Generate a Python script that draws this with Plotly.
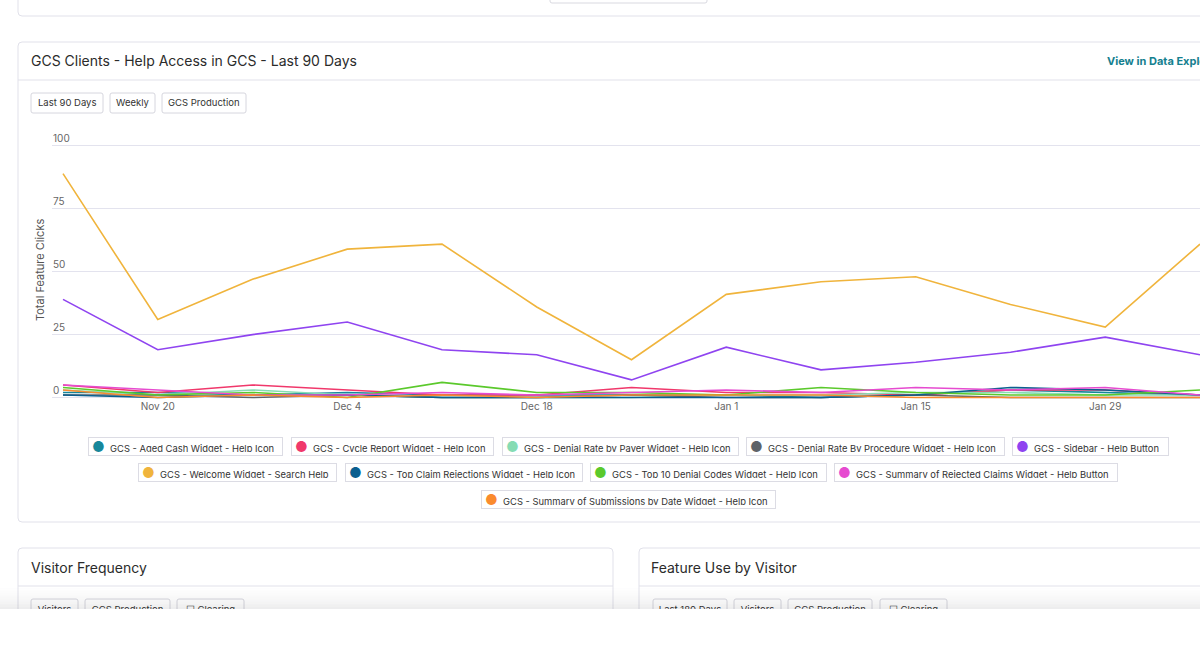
import plotly.graph_objects as go

# ---------------- data ----------------
weeks = ["2023-11-13", "2023-11-20", "2023-11-27", "2023-12-04", "2023-12-11", "2023-12-18",
         "2023-12-25", "2024-01-01", "2024-01-08", "2024-01-15", "2024-01-22", "2024-01-29",
         "2024-02-05"]

series_names = [
    "GCS - Aged Cash Widget - Help Icon",
    "GCS - Cycle Report Widget - Help Icon",
    "GCS - Denial Rate by Payer Widget - Help Icon",
    "GCS - Denial Rate By Procedure Widget - Help Icon",
    "GCS - Sidebar - Help Button",
    "GCS - Welcome Widget - Search Help",
    "GCS - Top Claim Rejections Widget - Help Icon",
    "GCS - Top 10 Denial Codes Widget - Help Icon",
    "GCS - Summary of Rejected Claims Widget - Help Button",
    "GCS - Summary of Submissions by Date Widget - Help Icon",
]
series_colors = ["#17879a", "#f0386b", "#86dcb4", "#5f6368", "#8f44f0",
                 "#f0b43c", "#0b5f8f", "#5bc92c", "#e64bd0", "#fa8b2e"]

aged_cash = [2, 2, 1, 2, 1, 1, 1, 1, 0, 1, 3, 2, 1]
cycle_report = [5, 2, 5, 3, 1, 1, 4, 2, 2, 1, 3, 3, 1]
denial_payer = [3, 1, 3, 1, 0, 0, 0, 1, 1, 2, 2, 1, 1]
denial_procedure = [1, 1, 0, 1, 0, 0, 1, 0, 0, 1, 0, 0, 0]
sidebar = [39, 19, 25, 30, 19, 17, 7, 20, 11, 14, 18, 24, 17]
welcome = [89, 31, 47, 59, 61, 36, 15, 41, 46, 48, 37, 28, 61]
top_claim = [1, 0, 1, 1, 0, 0, 0, 0, 0, 1, 4, 3, 1]
top10_denial = [4, 1, 2, 0, 6, 2, 2, 1, 4, 2, 1, 1, 3]
summary_rejected = [5, 3, 1, 1, 2, 1, 2, 3, 2, 4, 3, 4, 1]
summary_submissions = [3, 0, 1, 0, 1, 0, 1, 1, 1, 0, 0, 0, 0]

series_values = [aged_cash, cycle_report, denial_payer, denial_procedure, sidebar,
                 welcome, top_claim, top10_denial, summary_rejected, summary_submissions]

y_ticks = [0, 25, 50, 75, 100]

panel_title = "GCS Clients - Help Access in GCS - Last 90 Days"
link_text = "View in Data Explorer"
filter_buttons = ["Last 90 Days", "Weekly", "GCS Production"]
y_title = "Total Feature Clicks"
lower_titles = ["Visitor Frequency", "Feature Use by Visitor"]
lower_left_buttons = ["Visitors", "GCS Production", "☐ Clearing"]
lower_right_buttons = ["Last 180 Days", "Visitors", "GCS Production", "☐ Clearing"]

# ---------------- layout helpers (pixel -> paper) ----------------
W, H = 1200, 650
FONT = "Inter, 'Noto Sans', sans-serif"
BORDER = "#e1e1ea"


def fx(p):
    return p / W


def fy(p):
    return (H - p) / H


def rrect(x0, y0, x1, y1, r, line=BORDER, fill=None, layer="below", width=1):
    path = (f"M {fx(x0 + r)},{fy(y0)} L {fx(x1 - r)},{fy(y0)} Q {fx(x1)},{fy(y0)} {fx(x1)},{fy(y0 + r)} "
            f"L {fx(x1)},{fy(y1 - r)} Q {fx(x1)},{fy(y1)} {fx(x1 - r)},{fy(y1)} "
            f"L {fx(x0 + r)},{fy(y1)} Q {fx(x0)},{fy(y1)} {fx(x0)},{fy(y1 - r)} "
            f"L {fx(x0)},{fy(y0 + r)} Q {fx(x0)},{fy(y0)} {fx(x0 + r)},{fy(y0)} Z")
    d = dict(type="path", path=path, xref="paper", yref="paper", layer=layer,
             line=dict(color=line, width=width))
    d["fillcolor"] = fill if fill else "rgba(0,0,0,0)"
    return d


def hline(x0, x1, y, color=BORDER, layer="below"):
    return dict(type="line", xref="paper", yref="paper", x0=fx(x0), x1=fx(x1), y0=fy(y), y1=fy(y),
                line=dict(color=color, width=1), layer=layer)


# plot area: value 0 at y=397.5, value 100 at y=146
Y_LO, Y_HI = -0.6, 105.5
PX_PER = (397.5 - 146) / 100
PLOT_L, PLOT_R = 52, 1200
PLOT_B = 397.5 - Y_LO * PX_PER
PLOT_T = 146 - (Y_HI - 100) * PX_PER

fig = go.Figure()

draw_order = [0, 1, 2, 3, 6, 7, 8, 9, 4, 5]
for i in draw_order:
    fig.add_trace(go.Scatter(
        x=weeks, y=series_values[i], name=series_names[i], mode="lines",
        line=dict(color=series_colors[i], width=1.6), showlegend=False,
        xaxis="x", yaxis="y",
    ))

# lower-panel button texts (clipped under the bottom overlay)
lower_btn_boxes_left = [(31, 78), (85, 170), (177, 244)]
lower_btn_boxes_right = [(653, 727), (734, 781), (788, 872), (880, 947)]
btn_x = [(a + b) / 2 for a, b in lower_btn_boxes_left + lower_btn_boxes_right]
btn_t = lower_left_buttons + lower_right_buttons
fig.add_trace(go.Scatter(
    x=btn_x, y=[610.5] * len(btn_x), text=btn_t, mode="text",
    textfont=dict(family=FONT, size=9.5, color="#333"), cliponaxis=True,
    showlegend=False, hoverinfo="skip", xaxis="x2", yaxis="y2",
))

shapes = []
# top (previous) panel, bottom edge
shapes.append(rrect(18, -10, 1215, 16, 4))
shapes.append(rrect(550, -10, 707, 3, 2, line="#d9d9e0"))
# main panel
shapes.append(rrect(18, 42, 1215, 522, 4))
shapes.append(hline(18, 1215, 80))
# filter buttons
top_btn_boxes = [(31, 103), (110, 155), (162, 246)]
for (a, b) in top_btn_boxes:
    shapes.append(rrect(a, 93, b, 113, 2, line="#d6d6de"))
# lower panels
shapes.append(rrect(18, 548, 613, 700, 4))
shapes.append(hline(18, 613, 586))
shapes.append(rrect(639, 548, 1215, 700, 4))
shapes.append(hline(639, 1215, 586))
for (a, b) in lower_btn_boxes_left + lower_btn_boxes_right:
    shapes.append(rrect(a, 599, b, 620, 2, line="#d6d6de"))
# bottom overlay with soft shadow
n = 12
for k in range(n):
    y0 = 588 + k * (21 / n)
    y1 = 588 + (k + 1) * (21 / n)
    a = 0.006 + 0.085 * ((k + 1) / n) ** 1.6
    shapes.append(dict(type="rect", xref="paper", yref="paper", x0=0, x1=1, y0=fy(y1), y1=fy(y0),
                       fillcolor=f"rgba(60,60,70,{a:.3f})", line=dict(width=0), layer="above"))
shapes.append(dict(type="rect", xref="paper", yref="paper", x0=0, x1=1, y0=0, y1=fy(609),
                   fillcolor="white", line=dict(width=0), layer="above"))

annotations = []
annotations.append(dict(text=panel_title, x=fx(29), y=fy(61), xref="paper", yref="paper",
                        xanchor="left", yanchor="middle", showarrow=False,
                        font=dict(family=FONT, size=14, color="#2b2b2b")))
annotations.append(dict(text=f"<b>{link_text}</b>", x=fx(1105), y=fy(61), xref="paper", yref="paper",
                        xanchor="left", yanchor="middle", showarrow=False,
                        font=dict(family=FONT, size=11, color="#14808f")))
for (a, b), t in zip(top_btn_boxes, filter_buttons):
    annotations.append(dict(text=t, x=fx((a + b) / 2), y=fy(103), xref="paper", yref="paper",
                            xanchor="center", yanchor="middle", showarrow=False,
                            font=dict(family=FONT, size=9.5, color="#333")))
annotations.append(dict(text=y_title, x=fx(40), y=fy(270), xref="paper", yref="paper",
                        xanchor="center", yanchor="middle", textangle=-90, showarrow=False,
                        font=dict(family=FONT, size=11, color="#555")))
for xx, t in zip([29, 649], lower_titles):
    annotations.append(dict(text=t, x=fx(xx), y=fy(567), xref="paper", yref="paper",
                            xanchor="left", yanchor="middle", showarrow=False,
                            font=dict(family=FONT, size=14, color="#2b2b2b")))

# legend chips (layout positions)
chip_pos = [(88, 283, 446), (291, 494, 446), (502, 739, 446), (746, 1005, 446), (1012, 1169, 446),
            (138, 337, 473), (345, 583, 473), (590, 827, 473), (834, 1118, 473),
            (481, 776, 499)]
for (a, b, yc), name, col in zip(chip_pos, series_names, series_colors):
    pad = 3
    annotations.append(dict(
        text=f'<span style="color:{col};font-size:14px">●</span>&nbsp;&nbsp;{name}',
        x=fx((a + b) / 2), y=fy(yc), xref="paper", yref="paper",
        xanchor="center", yanchor="middle", showarrow=False, align="left",
        width=(b - a) - 2 * pad - 2, height=19 - 2 * pad - 2,
        bordercolor="#dcdce4", borderwidth=1, borderpad=pad, bgcolor="white",
        font=dict(family=FONT, size=9.4, color="#333"),
    ))

fig.update_layout(
    width=W, height=H,
    margin=dict(l=0, r=0, t=0, b=0),
    paper_bgcolor="white", plot_bgcolor="white",
    showlegend=False,
    font=dict(family=FONT),
    xaxis=dict(domain=[fx(PLOT_L), 1], anchor="y",
               range=["2023-11-12 04:30", "2024-02-05 00:00"],
               tick0="2023-11-20", dtick=14 * 24 * 3600 * 1000, tickformat="%b %-d",
               showgrid=False, zeroline=False, showline=False, ticks="",
               tickfont=dict(family=FONT, size=10, color="#666")),
    yaxis=dict(domain=[fy(PLOT_B), fy(PLOT_T)], anchor="x",
               range=[Y_LO, Y_HI], tickvals=y_ticks, ticklabelposition="inside top",
               ticklabelstandoff=-2,
               showgrid=True, gridcolor="#e3e3ee", gridwidth=1, zeroline=False, showline=False,
               ticks="", tickfont=dict(family=FONT, size=10, color="#666")),
    xaxis2=dict(domain=[0, 1], anchor="y2", range=[0, W], visible=False, fixedrange=True),
    yaxis2=dict(domain=[fy(609), fy(590)], anchor="x2", range=[609, 590], visible=False,
                fixedrange=True),
    shapes=shapes,
    annotations=annotations,
)

fig.write_html(
    "out.html",
    config={"displayModeBar": False},
    post_script="document.body.style.margin='0';document.body.style.overflow='hidden';",
)
